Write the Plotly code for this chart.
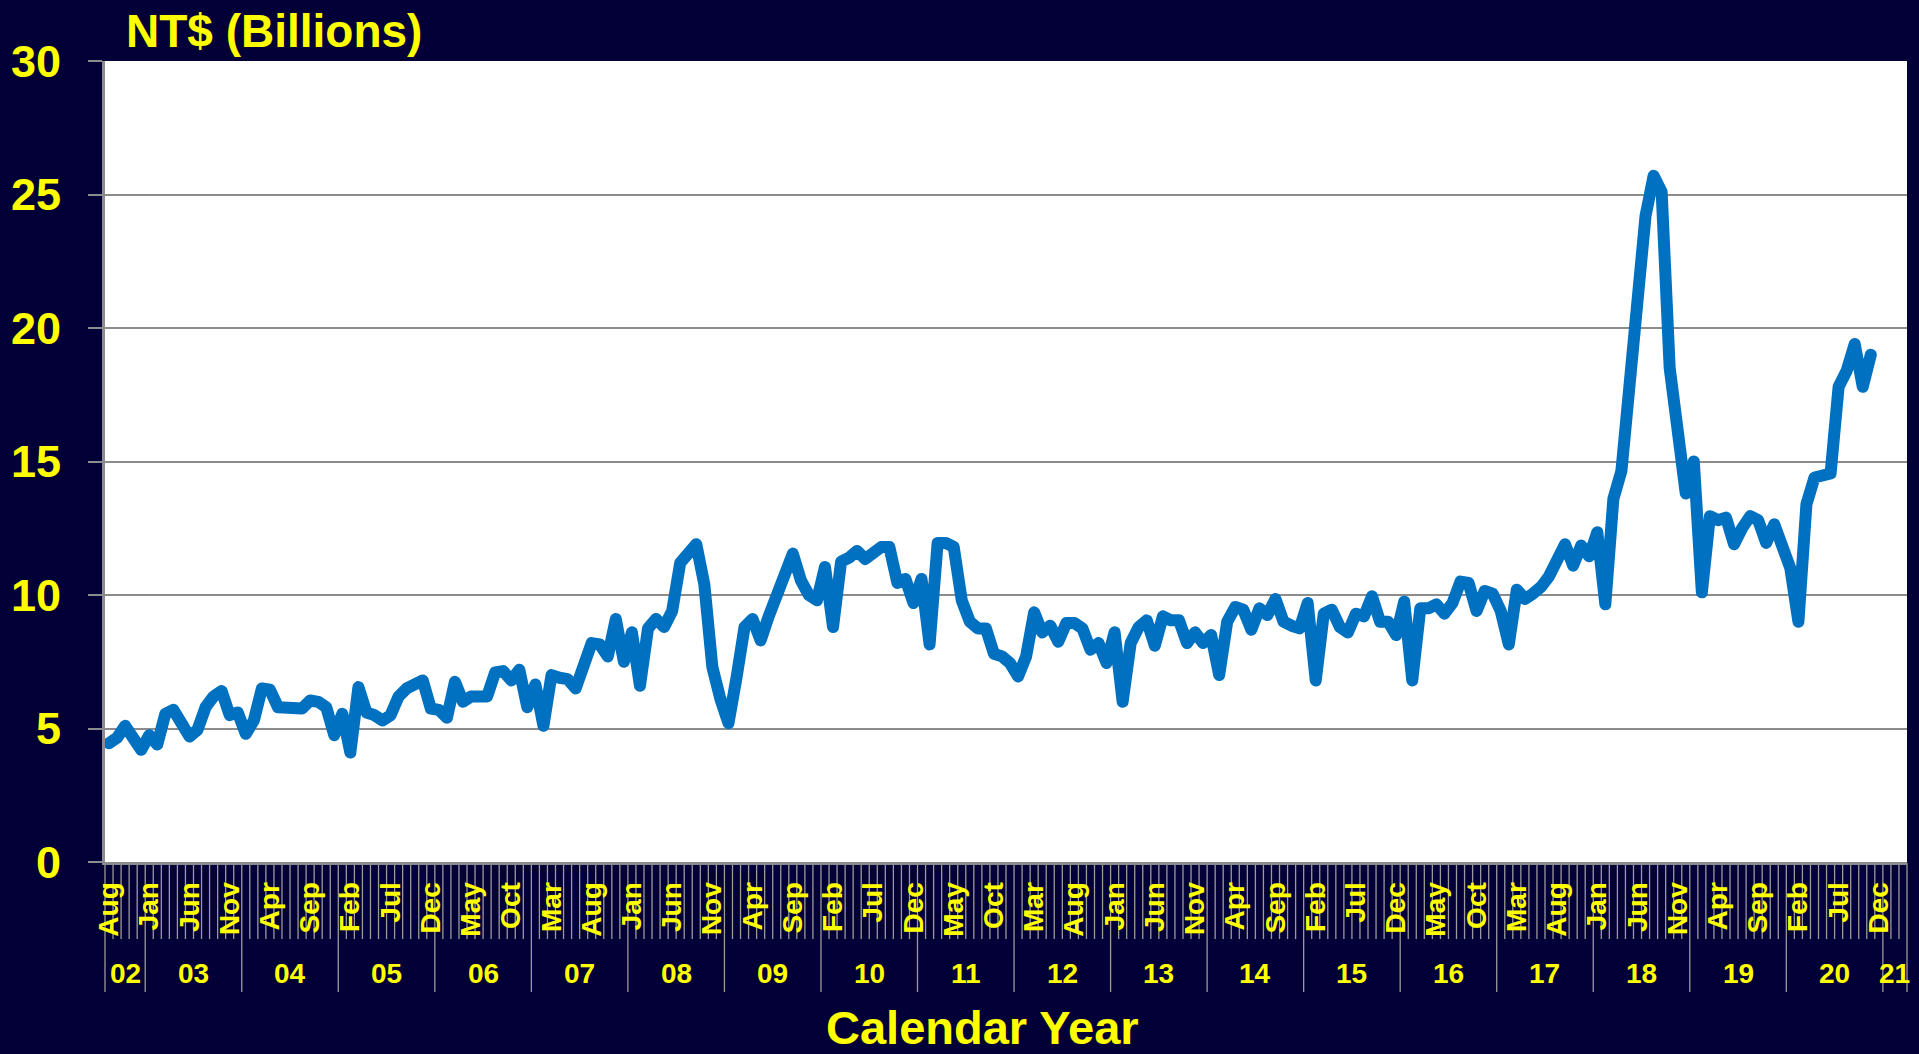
import plotly.graph_objects as go

# ---------------- data ----------------
MONTH_ABBR = ['Jan', 'Feb', 'Mar', 'Apr', 'May', 'Jun', 'Jul', 'Aug', 'Sep', 'Oct', 'Nov', 'Dec']
START_YEAR = 2002
START_MONTH = 8          # Aug 2002
N_CATEGORIES = 224       # Aug 2002 .. Mar 2021 on the axis

year_labels = ['02', '03', '04', '05', '06', '07', '08', '09', '10', '11',
               '12', '13', '14', '15', '16', '17', '18', '19', '20', '21']

# NT$ billions, monthly from Aug 2002 to Nov 2020
values_2002_2004 = [4.45, 4.65, 5.1, 4.7, 4.2,
                    4.75, 4.4, 5.55, 5.7, 5.2, 4.7, 4.95, 5.8, 6.2, 6.4, 5.5, 5.6,
                    4.8, 5.3, 6.5, 6.45, 5.8, 5.75, 5.75, 5.75, 6.05, 6.0, 5.8, 4.75]
values_2005_2007 = [5.55, 4.1, 6.55, 5.6, 5.5, 5.3, 5.5, 6.2, 6.5, 6.7, 6.8, 5.75,
                    5.7, 5.4, 6.75, 6.0, 6.2, 6.2, 6.2, 7.1, 7.15, 6.8, 7.2, 5.8,
                    6.65, 5.1, 7.0, 6.9, 6.85, 6.5, 7.3, 8.2, 8.15, 7.7, 9.1, 7.5]
values_2008_2010 = [8.6, 6.6, 8.75, 9.1, 8.8, 9.4, 11.2, 11.5, 11.9, 10.4, 7.3, 6.1,
                    5.2, 6.9, 8.8, 9.1, 8.3, 9.2, 9.9, 10.6, 11.55, 10.55, 10.0, 9.8,
                    11.05, 8.8, 11.25, 11.4, 11.65, 11.35, 11.55, 11.8, 11.8, 10.45, 10.6, 9.7]
values_2011_2013 = [10.6, 8.15, 11.95, 11.95, 11.8, 9.8, 9.0, 8.75, 8.75, 7.8, 7.7, 7.45,
                    6.95, 7.7, 9.35, 8.6, 8.85, 8.25, 8.95, 8.95, 8.75, 7.95, 8.2, 7.45,
                    8.6, 6.0, 8.2, 8.8, 9.05, 8.1, 9.2, 9.05, 9.05, 8.2, 8.6, 8.2]
values_2014_2016 = [8.5, 7.0, 9.0, 9.55, 9.45, 8.7, 9.5, 9.25, 9.85, 9.0, 8.85, 8.75,
                    9.7, 6.8, 9.3, 9.45, 8.8, 8.6, 9.3, 9.2, 9.95, 9.0, 9.0, 8.5,
                    9.75, 6.8, 9.5, 9.5, 9.65, 9.3, 9.7, 10.5, 10.45, 9.4, 10.15, 10.05]
values_2017_2020 = [9.4, 8.15, 10.2, 9.85, 10.05, 10.3, 10.7, 11.3, 11.9, 11.1, 11.85, 11.45,
                    12.35, 9.65, 13.6, 14.65, 18.0, 20.2, 24.2, 25.7, 25.1, 18.5, 16.3, 13.8,
                    15.0, 10.1, 12.95, 12.8, 12.9, 11.9, 12.5, 12.95, 12.8, 11.95, 12.65, 11.8,
                    11.0, 9.0, 13.4, 14.4, 14.5, 14.55, 17.8, 18.4, 19.4, 17.8, 19.0]

values = (values_2002_2004 + values_2005_2007 + values_2008_2010 +
          values_2011_2013 + values_2014_2016 + values_2017_2020)

# category list (one per month on the axis)
categories = []
cat_month = []
cat_year = []
for k in range(N_CATEGORIES):
    m = (START_MONTH - 1 + k) % 12
    y = START_YEAR + (START_MONTH - 1 + k) // 12
    categories.append(f"{MONTH_ABBR[m]} {y}")
    cat_month.append(MONTH_ABBR[m])
    cat_year.append(y)

LABEL_STEP = 5
tick_vals = categories[::LABEL_STEP]
tick_text = cat_month[::LABEL_STEP]

# ---------------- style ----------------
BG = '#030037'
YELLOW = '#FFFF00'
GRID = '#8C8C8C'
SEP = '#9A9A9A'
LINE = '#0070C0'
FONT = 'Liberation Sans, Arial, sans-serif'

fig = go.Figure()
fig.add_trace(go.Scatter(
    x=categories[:len(values)], y=values, mode='lines',
    line=dict(color=LINE, width=12), hoverinfo='x+y'))

shapes = []
# thin boundaries between every month in the month-label band
for b in range(N_CATEGORIES + 1):
    shapes.append(dict(type='line', xref='paper', yref='paper', ysizemode='pixel', yanchor=0,
                       x0=b / N_CATEGORIES, x1=b / N_CATEGORIES, y0=-1, y1=-77,
                       line=dict(color=SEP, width=1.3), layer='below'))
# year separators
annotations = []
year_bounds = [0] + [k for k in range(1, N_CATEGORIES) if cat_year[k] != cat_year[k - 1]] + [N_CATEGORIES]
for b in year_bounds:
    shapes.append(dict(type='line', xref='paper', yref='paper', ysizemode='pixel', yanchor=0,
                       x0=b / N_CATEGORIES, x1=b / N_CATEGORIES, y0=-77, y1=-130,
                       line=dict(color=SEP, width=1.3), layer='below'))
for j, lab in enumerate(year_labels):
    a, b = year_bounds[j], year_bounds[j + 1]
    annotations.append(dict(xref='paper', yref='paper', x=(a + b) / 2 / N_CATEGORIES, y=0,
                            yanchor='middle', xanchor='center', yshift=-111, showarrow=False,
                            text=lab, font=dict(size=28, color=YELLOW, family=FONT, weight='bold')))

annotations.append(dict(xref='paper', yref='paper', x=0.487, y=0, yanchor='middle', xanchor='center',
                        yshift=-165, showarrow=False, text='Calendar Year',
                        font=dict(size=47, color=YELLOW, family=FONT, weight='bold')))
annotations.append(dict(xref='paper', yref='paper', x=0, y=1, xanchor='left', yanchor='middle',
                        xshift=19, yshift=30, showarrow=False, text='NT$ (Billions)',
                        font=dict(size=46, color=YELLOW, family=FONT, weight='bold')))

fig.update_layout(
    width=1919, height=1054,
    paper_bgcolor=BG, plot_bgcolor='white',
    margin=dict(l=105, r=12, t=61, b=192),
    showlegend=False,
    font=dict(family=FONT, color=YELLOW),
    shapes=shapes, annotations=annotations,
)
fig.update_xaxes(
    type='category', categoryorder='array', categoryarray=categories,
    range=[-0.5, N_CATEGORIES - 0.5],
    tickmode='array', tickvals=tick_vals, ticktext=tick_text, tickangle=-90,
    ticks='', ticklabelstandoff=6,
    tickfont=dict(size=28, color=YELLOW, family=FONT, weight='bold'),
    showgrid=False, zeroline=False,
    showline=True, linecolor=GRID, linewidth=3,
)
fig.update_yaxes(
    range=[0, 30], tick0=0, dtick=5,
    showgrid=True, gridcolor=GRID, gridwidth=2,
    ticks='outside', ticklen=14, tickwidth=2, tickcolor=GRID,
    showline=True, linecolor=GRID, linewidth=3, zeroline=False,
    ticklabelstandoff=18,
    tickfont=dict(size=45, color=YELLOW, family=FONT, weight='bold'),
)

post = ("document.body.style.margin='0';document.body.style.overflow='hidden';"
        "document.querySelectorAll('.scatterlayer .js-line').forEach(function(p){"
        "p.style.strokeLinejoin='round';p.style.strokeLinecap='round';});")
fig.write_html("out.html", post_script=post, config={'displayModeBar': False})
